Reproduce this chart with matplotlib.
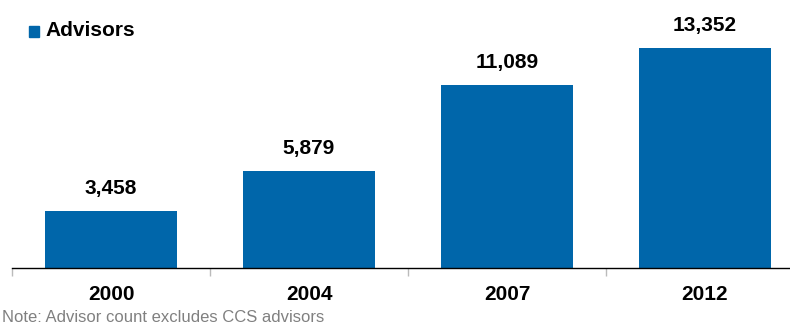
import matplotlib
matplotlib.use("Agg")
import matplotlib.pyplot as plt
from matplotlib.patches import Rectangle

categories = ["2000", "2004", "2007", "2012"]
values = [3458, 5879, 11089, 13352]
series_name = "Advisors"
note = "Note: Advisor count excludes CCS advisors"

plt.rcParams['font.family'] = ['Liberation Sans', 'DejaVu Sans']
color = "#0066AA"

fig = plt.figure(figsize=(7.9, 3.27), dpi=100)
ax = fig.add_axes([12/790, 1-268/327, 792/790, 263.7/327])
x = list(range(len(categories)))
bars = ax.bar(x, values, width=2/3, color=color)
ax.set_xlim(-0.5, len(categories)-0.5)
ax.set_ylim(0, 16000)
for xi, v in zip(x, values):
    ax.annotate(f"{v:,}", (xi, v), xytext=(0, 16.5), textcoords="offset points",
                ha="center", va="center", fontsize=15, fontweight="bold")
for s in ["top", "right", "left"]:
    ax.spines[s].set_visible(False)
ax.spines["bottom"].set_color("black")
ax.spines["bottom"].set_linewidth(1)
ax.set_yticks([])
ax.set_xticks([i - 0.5 for i in range(len(categories)+1)])
ax.set_xticklabels([])
ax.tick_params(axis="x", length=6, color="#BBBBBB", width=1)
for xi, c in zip(x, categories):
    ax.text(xi, -0.10, c, transform=ax.get_xaxis_transform(), ha="center", va="center",
            fontsize=15, fontweight="bold")

fig.patches.append(Rectangle((29/790, 1-37/327), 10/790, 11/327, transform=fig.transFigure,
                             color=color))
fig.text(45/790, 1-31/327, series_name, ha="left", va="center", fontsize=15, fontweight="bold")
fig.text(2/790, 1-318/327, note, ha="left", va="center", fontsize=12, color="#808080")
fig.savefig("out.png", dpi=100)
